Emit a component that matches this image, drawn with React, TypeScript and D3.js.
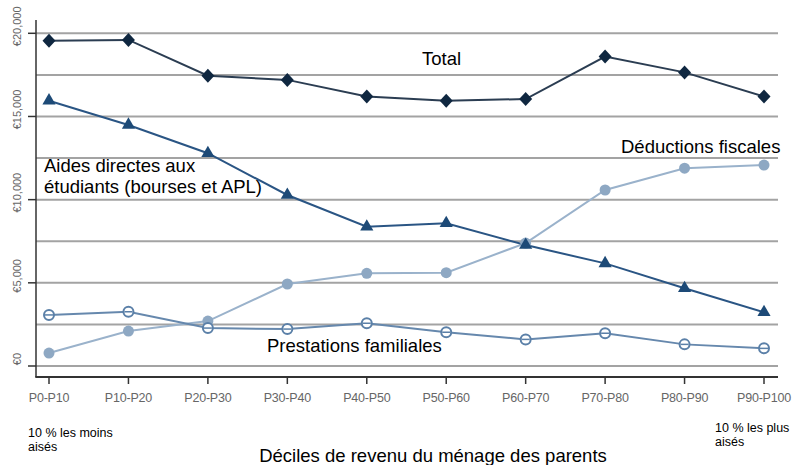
import React from "react";
import * as d3 from "d3";

const categories = ["P0-P10", "P10-P20", "P20-P30", "P30-P40", "P40-P50", "P50-P60", "P60-P70", "P70-P80", "P80-P90", "P90-P100"];
const totalValues = [19550, 19600, 17450, 17200, 16200, 15950, 16050, 18600, 17650, 16200];
const aidesValues = [15950, 14490, 12790, 10280, 8370, 8580, 7270, 6170, 4670, 3230];
const deductionsValues = [780, 2100, 2700, 4930, 5570, 5610, 7390, 10580, 11890, 12080];
const prestationsValues = [3070, 3260, 2280, 2220, 2570, 2030, 1600, 1970, 1300, 1060];
const yTicks = [0, 5000, 10000, 15000, 20000];
const yGrid = [0, 2500, 5000, 7500, 10000, 12500, 15000, 17500, 20000];
const yTickLabels = ["€0", "€5,000", "€10,000", "€15,000", "€20,000"];

const W = 795;
const H = 465;

export default function App() {
  const x = d3.scalePoint<string>().domain(categories).range([49, 764]);
  const y = d3.scaleLinear().domain([0, 20000]).range([366, 33.3]);
  const line = d3
    .line<number>()
    .x((_, i) => x(categories[i]) as number)
    .y((d) => y(d));

  const font = "'Liberation Sans', Arial, sans-serif";
  const tri = d3.symbol().type(d3.symbolTriangle).size(75)();
  const diamond = "M0,-7L6.5,0L0,7L-6.5,0Z";

  return (
    <svg width={W} height={H} style={{ position: "absolute", left: 0, top: 0, background: "#fff" }} fontFamily={font}>
      {/* gridlines */}
      {yGrid.map((v) => (
        <line key={"g" + v} x1={36} x2={778} y1={y(v)} y2={y(v)} stroke="#a3a3a3" strokeWidth={2} />
      ))}
      {/* axes */}
      <line x1={36} x2={36} y1={20} y2={377} stroke="#333" strokeWidth={1.5} />
      <line x1={35.3} x2={778} y1={377} y2={377} stroke="#333" strokeWidth={2} />
      {yTicks.map((v, i) => (
        <g key={"t" + v}>
          <line x1={28} x2={36} y1={y(v)} y2={y(v)} stroke="#333" strokeWidth={1.5} />
          <text
            transform={`translate(21,${y(v) - 7}) rotate(-90)`}
            textAnchor="middle"
            fontSize={11}
            fill="#666"
          >
            {yTickLabels[i]}
          </text>
        </g>
      ))}
      {categories.map((c) => (
        <g key={"x" + c}>
          <line x1={x(c)} x2={x(c)} y1={377} y2={384} stroke="#333" strokeWidth={1.5} />
          <text x={x(c)} y={402} textAnchor="middle" fontSize={12.5} fill="#666" letterSpacing={-0.2}>
            {c}
          </text>
        </g>
      ))}

      {/* series lines */}
      <path d={line(deductionsValues) || ""} fill="none" stroke="#9ab2cb" strokeWidth={2} />
      <path d={line(prestationsValues) || ""} fill="none" stroke="#6688ad" strokeWidth={2} />
      <path d={line(aidesValues) || ""} fill="none" stroke="#2a5584" strokeWidth={2} />
      <path d={line(totalValues) || ""} fill="none" stroke="#2b3d52" strokeWidth={2} />

      {/* markers */}
      {deductionsValues.map((v, i) => (
        <circle key={"d" + i} cx={x(categories[i])} cy={y(v)} r={5.5} fill="#8ea8c3" />
      ))}
      {prestationsValues.map((v, i) => (
        <g key={"p" + i}>
          <circle cx={x(categories[i])} cy={y(v)} r={5} fill="#fff" stroke="#5b80a8" strokeWidth={2} />
          <line
            x1={(x(categories[i]) as number) - 4}
            x2={(x(categories[i]) as number) + 4}
            y1={y(v)}
            y2={y(v)}
            stroke="#5b80a8"
            strokeWidth={1.5}
          />
        </g>
      ))}
      {aidesValues.map((v, i) => (
        <path key={"a" + i} d={tri || ""} transform={`translate(${x(categories[i])},${y(v)})`} fill="#1d4a77" />
      ))}
      {totalValues.map((v, i) => (
        <path key={"t" + i} d={diamond} transform={`translate(${x(categories[i])},${y(v)})`} fill="#0f2740" />
      ))}

      {/* annotations */}
      <text x={422} y={65} fontSize={18.5} fill="#000">Total</text>
      <text x={621} y={153} fontSize={18.5} fill="#000">Déductions fiscales</text>
      <text x={44} y={172} fontSize={18.5} fill="#000">Aides directes aux</text>
      <text x={44} y={193} fontSize={18.5} fill="#000">étudiants (bourses et APL)</text>
      <text x={267} y={352} fontSize={18.5} fill="#000">Prestations familiales</text>

      <text x={28} y={437} fontSize={12.5} fill="#000">10 % les moins</text>
      <text x={28} y={451} fontSize={12.5} fill="#000">aisés</text>
      <text x={715} y={432} fontSize={12.5} fill="#000">10 % les plus</text>
      <text x={715} y={446} fontSize={12.5} fill="#000">aisés</text>

      <text x={433} y={462} textAnchor="middle" fontSize={18.5} fill="#000">Déciles de revenu du ménage des parents</text>
    </svg>
  );
}
